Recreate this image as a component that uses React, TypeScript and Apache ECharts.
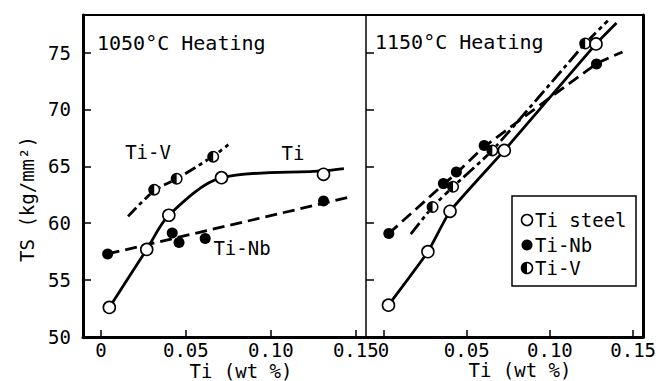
import React, { useEffect, useRef } from "react";
import * as echarts from "echarts";

// ---- axes ----
const xTicks = [0, 0.05, 0.1, 0.15];
const yTicks = [50, 55, 60, 65, 70, 75];
const X_MIN = -0.0105;
const X_MAX = 0.156;
const Y_MIN = 50;
const Y_MAX = 78.3;

// ---- 1050°C heating (left panel) ----
const tiSteel1050 = [[0.005, 52.6], [0.027, 57.7], [0.040, 60.7], [0.071, 64.0], [0.131, 64.3]];
const tiSteelFit1050 = [[0.005, 52.6], [0.027, 57.7], [0.040, 60.7], [0.071, 64.0], [0.131, 64.6], [0.143, 64.8]];
const tiNb1050 = [[0.004, 57.3], [0.042, 59.15], [0.046, 58.3], [0.0614, 58.65], [0.131, 61.95]];
const tiNbFit1050 = [[0.004, 57.3], [0.145, 62.25]];
const tiV1050 = [[0.0314, 62.95], [0.0446, 63.9], [0.0661, 65.85]];
const tiVFit1050 = [[0.016, 60.6], [0.0314, 62.85], [0.0446, 63.9], [0.0661, 65.9], [0.075, 66.9]];

// ---- 1150°C heating (right panel) ----
const tiSteel1150 = [[0.003, 52.8], [0.0267, 57.5], [0.040, 61.05], [0.0726, 66.4], [0.1277, 75.76]];
const tiSteelFit1150 = [[0.003, 52.8], [0.0267, 57.5], [0.040, 61.05], [0.0726, 66.4], [0.1277, 75.76], [0.140, 77.6]];
const tiNb1150 = [[0.0032, 59.1], [0.036, 63.48], [0.0438, 64.5], [0.0605, 66.84], [0.128, 74.0]];
const tiNbFit1150 = [[0.0032, 59.1], [0.036, 63.4], [0.0438, 64.4], [0.0605, 66.7], [0.128, 74.0], [0.1436, 75.05]];
const tiV1150 = [[0.0295, 61.43], [0.0418, 63.2], [0.0654, 66.4], [0.1212, 75.8]];
const tiVFit1150 = [[0.0164, 59.04], [0.0295, 61.43], [0.0418, 63.2], [0.0654, 66.4], [0.1212, 75.8], [0.1348, 77.8]];

const FONT = "DejaVu Sans Mono";
const HALF_PATH =
  "path://M0,-10A10,10,0,0,0,0,10Z M0,-10A10,10,0,0,1,0,10L0,7.5A7.5,7.5,0,0,0,0,-7.5Z";

function fitLine(data: number[][], idx: number, type: any, smooth: number) {
  return {
    type: "line",
    xAxisIndex: idx,
    yAxisIndex: idx,
    data,
    smooth,
    symbol: "none",
    z: 2,
    lineStyle: { color: "#000", width: 2.8, type },
  };
}
function openPts(data: number[][], idx: number) {
  return {
    type: "scatter",
    xAxisIndex: idx,
    yAxisIndex: idx,
    data,
    symbol: "circle",
    symbolSize: 12,
    z: 4,
    itemStyle: { color: "#fff", borderColor: "#000", borderWidth: 1.6, opacity: 1 },
  };
}
function filledPts(data: number[][], idx: number) {
  return {
    type: "scatter",
    xAxisIndex: idx,
    yAxisIndex: idx,
    data,
    symbol: "circle",
    symbolSize: 11,
    z: 4,
    itemStyle: { color: "#000", opacity: 1 },
  };
}
function halfPts(data: number[][], idx: number) {
  return [
    {
      type: "scatter",
      xAxisIndex: idx,
      yAxisIndex: idx,
      data,
      symbol: "circle",
      symbolSize: 12,
      z: 3,
      itemStyle: { color: "#fff", opacity: 1 },
    },
    {
      type: "scatter",
      xAxisIndex: idx,
      yAxisIndex: idx,
      data,
      symbol: HALF_PATH,
      symbolSize: 12,
      z: 4,
      itemStyle: { color: "#000", opacity: 1 },
    },
  ];
}

function bottomX(gridIndex: number) {
  return {
    type: "value",
    gridIndex,
    position: "bottom",
    min: X_MIN,
    max: X_MAX,
    splitLine: { show: false },
    axisLine: { show: true, onZero: false, lineStyle: { color: "#000", width: 3 } },
    axisTick: { show: true, inside: true, length: 7, customValues: xTicks, lineStyle: { color: "#000", width: 1.5 } },
    axisLabel: {
      show: true,
      customValues: xTicks,
      margin: 3,
      color: "#000",
      fontSize: 19,
      fontFamily: FONT,
      formatter: (v: number) => (v === 0 ? "0" : v.toFixed(2)),
    },
  };
}
function topX(gridIndex: number) {
  return {
    type: "value",
    gridIndex,
    position: "top",
    min: X_MIN,
    max: X_MAX,
    splitLine: { show: false },
    axisLine: { show: true, onZero: false, lineStyle: { color: "#000", width: 2 } },
    axisTick: { show: false },
    axisLabel: { show: false },
  };
}

function text(x: number, y: number, t: string, size: number, align = "left", rotation = 0) {
  return {
    type: "text",
    x,
    y,
    rotation,
    z: 10,
    style: {
      text: t,
      fill: "#000",
      fontSize: size,
      fontFamily: FONT,
      align,
      verticalAlign: "middle",
      textAlign: align,
      textVerticalAlign: "middle",
    },
  };
}

export default function App() {
  const ref = useRef<HTMLDivElement>(null);
  useEffect(() => {
    if (!ref.current) return;
    const chart = echarts.init(ref.current, null, { renderer: "svg" });
    const option: any = {
      animation: false,
      backgroundColor: "#fff",
      grid: [
        { left: 83, top: 15, width: 283, height: 322 },
        { left: 366, top: 15, width: 283, height: 322 },
      ],
      xAxis: [bottomX(0), bottomX(1), topX(0), topX(1)],
      yAxis: [
        {
          type: "value",
          gridIndex: 0,
          position: "left",
          min: Y_MIN,
          max: Y_MAX,
          splitLine: { show: false },
          axisLine: { show: true, onZero: false, lineStyle: { color: "#000", width: 3 } },
          axisTick: { show: true, inside: true, length: 8, customValues: yTicks, lineStyle: { color: "#000", width: 1.5 } },
          axisLabel: { show: true, customValues: yTicks, margin: 12, color: "#000", fontSize: 19, fontFamily: FONT },
        },
        {
          type: "value",
          gridIndex: 1,
          position: "left",
          min: Y_MIN,
          max: Y_MAX,
          splitLine: { show: false },
          axisLine: { show: true, onZero: false, lineStyle: { color: "#000", width: 1.5 } },
          axisTick: { show: true, inside: true, length: 8, customValues: yTicks, lineStyle: { color: "#000", width: 1.5 } },
          axisLabel: { show: false },
        },
        {
          type: "value",
          gridIndex: 1,
          position: "right",
          min: Y_MIN,
          max: Y_MAX,
          splitLine: { show: false },
          axisLine: { show: true, onZero: false, lineStyle: { color: "#000", width: 3 } },
          axisTick: { show: false },
          axisLabel: { show: false },
        },
      ],
      series: [
        fitLine(tiSteelFit1050, 0, "solid", 0.3),
        fitLine(tiNbFit1050, 0, [12, 6], 0),
        fitLine(tiVFit1050, 0, [12, 4, 4, 4], 0.3),
        openPts(tiSteel1050, 0),
        filledPts(tiNb1050, 0),
        ...halfPts(tiV1050, 0),
        fitLine(tiSteelFit1150, 1, "solid", 0.15),
        fitLine(tiNbFit1150, 1, [12, 6], 0.15),
        fitLine(tiVFit1150, 1, [14, 4, 4, 4], 0.15),
        openPts(tiSteel1150, 1),
        filledPts(tiNb1150, 1),
        ...halfPts(tiV1150, 1),
      ],
      graphic: [
        text(97, 43, "1050°C Heating", 20),
        text(375, 42, "1150°C Heating", 20),
        text(148, 152, "Ti-V", 19, "center"),
        text(293, 153, "Ti", 19, "center"),
        text(242, 248, "Ti-Nb", 19, "center"),
        text(241, 371, "Ti (wt %)", 19, "center"),
        text(520, 370, "Ti (wt %)", 19, "center"),
        text(27, 199, "TS (kg/mm²)", 19, "center", Math.PI / 2),
        {
          type: "rect",
          shape: { x: 512, y: 196, width: 124, height: 90 },
          style: { fill: "#fff", stroke: "#000", lineWidth: 1.5 },
          z: 9,
        },
        {
          type: "circle",
          shape: { cx: 527, cy: 220, r: 5.5 },
          style: { fill: "#fff", stroke: "#000", lineWidth: 1.5 },
          z: 10,
        },
        {
          type: "circle",
          shape: { cx: 527, cy: 245, r: 5.5 },
          style: { fill: "#000" },
          z: 10,
        },
        {
          type: "circle",
          shape: { cx: 527, cy: 268, r: 5.5 },
          style: { fill: "#fff", stroke: "#000", lineWidth: 1.5 },
          z: 10,
        },
        {
          type: "sector",
          shape: { cx: 527, cy: 268, r0: 0, r: 5.5, startAngle: Math.PI / 2, endAngle: (3 * Math.PI) / 2, clockwise: true },
          style: { fill: "#000" },
          z: 11,
        },
        text(535, 220, "Ti steel", 19),
        text(535, 245, "Ti-Nb", 19),
        text(535, 268, "Ti-V", 19),
      ],
    };
    chart.setOption(option);
    return () => chart.dispose();
  }, []);
  return (
    <div
      ref={ref}
      style={{ position: "absolute", left: 0, top: 0, width: 659, height: 381, background: "#fff" }}
    />
  );
}
